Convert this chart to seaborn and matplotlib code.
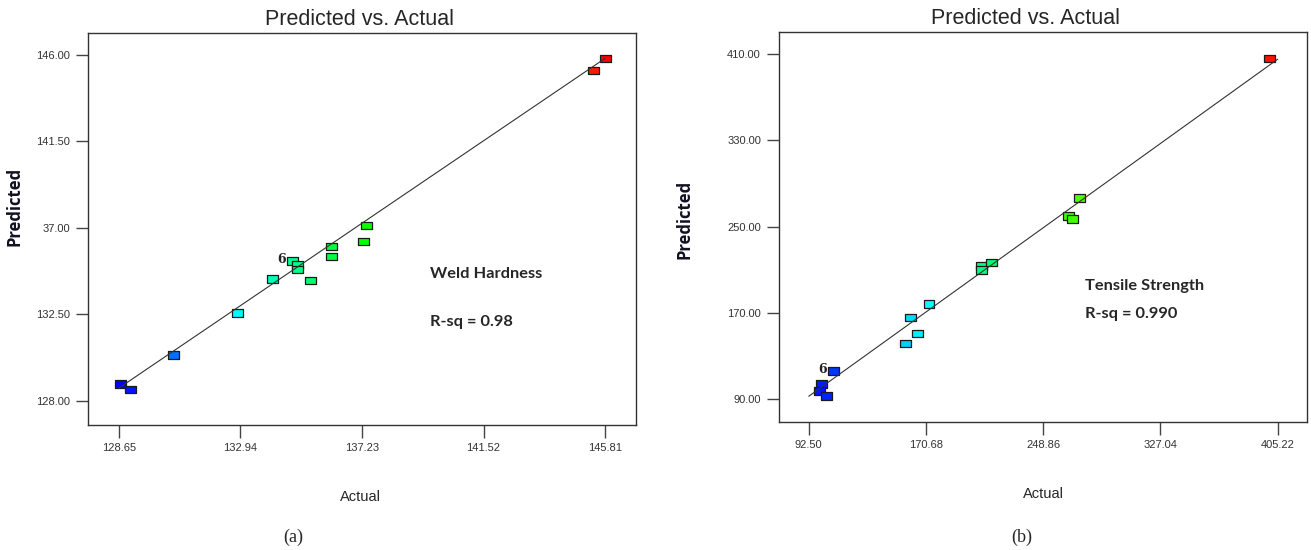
import matplotlib
matplotlib.use("Agg")
import matplotlib.pyplot as plt
import seaborn as sns
import pandas as pd
from matplotlib.colors import LinearSegmentedColormap

# (a) Weld hardness
hard_actual = [128.70, 129.05, 130.59, 132.84, 134.08, 134.78, 134.95, 134.97,
               135.43, 136.14, 136.14, 137.40, 137.29, 145.40, 145.81]
hard_pred = [128.87, 128.57, 130.38, 132.57, 134.34, 135.26, 135.07, 134.81,
             134.24, 136.03, 135.50, 137.12, 136.29, 145.19, 145.80]
hard_xticks = [128.65, 132.94, 137.23, 141.52, 145.81]
hard_yticks = [128.0, 132.5, 137.0, 141.5, 146.0]
hard_ylabels = ["128.00", "132.50", "37.00", "141.50", "146.00"]

# (b) Tensile strength
ts_actual = [109.1, 101.1, 99.4, 104.2, 172.7, 160.4, 164.7, 156.9,
             207.7, 207.5, 214.6, 265.7, 268.6, 272.8, 399.6]
ts_pred = [116.1, 104.1, 97.6, 92.7, 178.3, 165.6, 150.8, 141.5,
           213.5, 209.5, 216.6, 259.5, 256.8, 276.2, 405.7]
ts_xticks = [92.50, 170.68, 248.86, 327.04, 405.22]
ts_yticks = [90.0, 170.0, 250.0, 330.0, 410.0]
ts_ylabels = ["90.00", "170.00", "250.00", "330.00", "410.00"]

sns.set_style("ticks")
plt.rcParams["font.family"] = ["Liberation Sans", "DejaVu Sans"]

cmap = LinearSegmentedColormap.from_list(
    "de", ["#0000ff", "#00ffff", "#00ff00", "#ffff00", "#ff0000"])
rect = [(-1.45, -1.0), (1.45, -1.0), (1.45, 1.0), (-1.45, 1.0), (-1.45, -1.0)]

fig = plt.figure(figsize=(13.11, 5.5), dpi=100)
ax_a = fig.add_axes([0.0671, 0.2273, 0.418, 0.7127])
ax_b = fig.add_axes([0.5942, 0.2327, 0.4031, 0.709])

panels = [
    (ax_a, hard_actual, hard_pred, hard_xticks, hard_yticks, hard_ylabels,
     (127.56, 146.90), (126.73, 147.13), 5, "Weld Hardness", "R-sq = 0.98",
     0.625, (0.384, 0.262), 0.496, (-0.117, 0.558), (0.498, -0.166)),
    (ax_b, ts_actual, ts_pred, ts_xticks, ts_yticks, ts_ylabels,
     (72.64, 425.08), (68.6, 430.4), 0, "Tensile Strength", "R-sq = 0.990",
     0.579, (0.349, 0.277), 0.467, (-0.161, 0.52), (0.5, -0.167)),
]

for (ax, act, pred, xt, yt, yl, xlim, ylim, six, name, rsq,
     tx, ty, title_x, ylab_xy, xlab_xy) in panels:
    df = pd.DataFrame({"Actual": act, "Predicted": pred})
    sns.scatterplot(data=df, x="Actual", y="Predicted", hue="Actual",
                    palette=cmap, hue_norm=(min(xt), max(xt)), marker=rect,
                    s=62, edgecolor="#1a1a1a", linewidth=0.9, legend=False,
                    ax=ax, zorder=2)
    ax.plot([xt[0], xt[-1]], [xt[0], xt[-1]], color="#333333", lw=0.8, zorder=3)
    ax.annotate("6", (act[six], pred[six]), xytext=(-5, 1),
                textcoords="offset points", ha="right", va="center",
                fontsize=9, fontweight="bold", family="DejaVu Serif",
                color="#222222")
    ax.set_xlim(*xlim)
    ax.set_ylim(*ylim)
    ax.set_xticks(xt)
    ax.set_xticklabels([f"{v:.2f}" for v in xt])
    ax.set_yticks(yt)
    ax.set_yticklabels(yl)
    ax.tick_params(axis="both", length=9, width=1, color="#444444",
                   labelsize=8, labelcolor="#333333", pad=4)
    for sp in ax.spines.values():
        sp.set_visible(True)
        sp.set_color("#333333")
        sp.set_linewidth(1)
    ax.set_title("Predicted vs. Actual", fontsize=15.5, pad=6, x=title_x)
    ax.set_xlabel("Actual", fontsize=10.5)
    ax.xaxis.set_label_coords(*xlab_xy)
    ax.set_ylabel("Predicted", fontsize=12, fontweight="bold",
                  family="Open Sans", color="#111122")
    ax.yaxis.set_label_coords(*ylab_xy)
    ax.text(tx, ty[0], name, transform=ax.transAxes, fontsize=11.8,
            fontweight="bold", family="Lato", va="center")
    ax.text(tx, ty[1], rsq, transform=ax.transAxes, fontsize=11.8,
            fontweight="bold", family="Lato", va="center")

fig.text(0.2235, 0.014, "(a)", family="Liberation Serif", fontsize=13,
         ha="center")
fig.text(0.7795, 0.014, "(b)", family="Liberation Serif", fontsize=13,
         ha="center")

fig.savefig("out.png", dpi=100, facecolor="white")
